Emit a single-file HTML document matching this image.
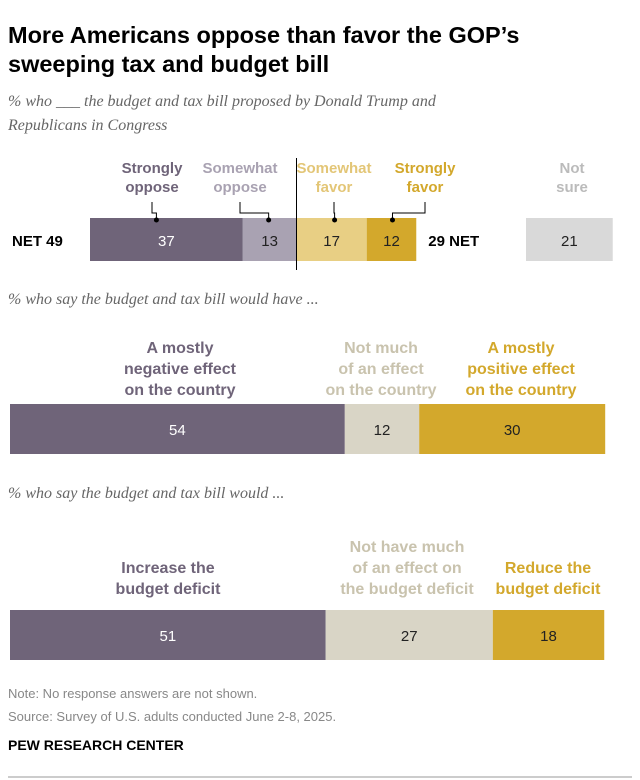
<!DOCTYPE html>
<html><head><meta charset="utf-8"><style>
body{margin:0;background:#fff;width:640px;height:780px;overflow:hidden}
svg{display:block}
.b{font-family:"Liberation Sans",sans-serif;font-weight:bold;font-stretch:condensed}
.s{font-family:"Liberation Serif",serif;font-style:italic;fill:#666;font-size:16px}
</style></head><body>
<svg id="c" width="640" height="780">
<text class="b" x="8" y="43" font-size="23.5" fill="#000">More Americans oppose than favor the GOP’s</text>
<text class="b" x="8" y="72" font-size="23.5" fill="#000">sweeping tax and budget bill</text>
<text class="s" x="8" y="106">% who ___ the budget and tax bill proposed by Donald Trump and</text>
<text class="s" x="8" y="130">Republicans in Congress</text>
<text class="s" x="8" y="304">% who say the budget and tax bill would have ...</text>
<text class="s" x="8" y="498">% who say the budget and tax bill would ...</text>
<g id="g1"></g><g id="g2"></g><g id="g3"></g>
<text x="8" y="698" font-family="Liberation Sans" font-size="13" fill="#888">Note: No response answers are not shown.</text>
<text x="8" y="721" font-family="Liberation Sans" font-size="13" fill="#888">Source: Survey of U.S. adults conducted June 2-8, 2025.</text>
<text class="b" x="8" y="750" font-size="14" fill="#000">PEW RESEARCH CENTER</text>
<line x1="8" y1="777" x2="632" y2="777" stroke="#999" stroke-width="1"/>
</svg>
<script>
const cat1=["Strongly oppose","Somewhat oppose","Somewhat favor","Strongly favor"];
const val1=[37,13,17,12];
const notSure=[21];
const net1=[49,29];
const cat2=["A mostly negative effect on the country","Not much of an effect on the country","A mostly positive effect on the country"];
const val2=[54,12,30];
const cat3=["Increase the budget deficit","Not have much of an effect on the budget deficit","Reduce the budget deficit"];
const val3=[51,27,18];
const NS="http://www.w3.org/2000/svg";
function mk(p,t,a,txt){const e=document.createElementNS(NS,t);for(const k in a)e.setAttribute(k,a[k]);if(txt!=null)e.textContent=txt;p.appendChild(e);return e;}
const g1=document.getElementById('g1');
const s1=v=>v*4.13, x0=90;
const col1=["#6f6479","#a9a2b2","#e8cf84","#d3a82c"];
const lab1=[["Strongly","oppose"],["Somewhat","oppose"],["Somewhat","favor"],["Strongly","favor"]];
const lcol1=["#6f6479","#a9a2b2","#e3c677","#d3a82c"];
const lx1=[152,240,334,425];
let x=x0;
val1.forEach((v,i)=>{
 const w=s1(v);
 const r=mk(g1,'rect',{x:x,y:218,width:w,height:43,fill:col1[i]});
 
 
 const t=mk(g1,'text',{x:x+w/2,y:246,'text-anchor':'middle','font-family':'Liberation Sans','font-size':15,fill:i==0?'#fff':'#222'},v);
 
 
 const cx=x+w/2-(i==0?10:i==3?-1:i==2?-3:1);
 const lx=lx1[i];
 mk(g1,'path',{d:`M${lx} 202 V213 H${cx} V221`,fill:'none',stroke:'#000','stroke-width':1});
 mk(g1,'circle',{cx:cx,cy:220,r:2.5,fill:'#000'});
 lab1[i].forEach((l,j)=>{const tt=mk(g1,'text',{x:lx,y:173+j*19,'text-anchor':'middle','font-size':15,fill:lcol1[i],class:'b'},l);
 
 });
 x+=w;
});
mk(g1,'line',{x1:x0+s1(val1[0]+val1[1]),y1:158,x2:x0+s1(val1[0]+val1[1]),y2:270,stroke:'#000','stroke-width':1});
const n1=mk(g1,'text',{x:12,y:246,class:'b','font-size':15,fill:'#000'},'NET '+net1[0]);


const n2=mk(g1,'text',{x:x+12,y:246,class:'b','font-size':15,fill:'#000'},net1[1]+'  NET');


const ns=mk(g1,'rect',{x:526,y:218,width:s1(notSure[0]),height:43,fill:'#d9d9d9'});


mk(g1,'text',{x:526+s1(notSure[0])/2,y:246,'text-anchor':'middle','font-family':'Liberation Sans','font-size':15,fill:'#222'},notSure[0]);
mk(g1,'text',{x:572,y:173,'text-anchor':'middle','font-size':15,fill:'#bbb',class:'b'},'Not');
mk(g1,'text',{x:572,y:192,'text-anchor':'middle','font-size':15,fill:'#bbb',class:'b'},'sure');
function stack(gid,vals,cats,labels,y,ppu,cols,lcols,tcols,ly){
 const g=document.getElementById(gid);let x=10;
 vals.forEach((v,i)=>{
  const w=v*ppu;
  const r=mk(g,'rect',{x:x,y:y,width:w,height:50,fill:cols[i]});
  
  
  mk(g,'text',{x:x+w/2,y:y+31,'text-anchor':'middle','font-family':'Liberation Sans','font-size':15,fill:tcols[i]},v);
  labels[i].forEach((l,j)=>{const t=mk(g,'text',{x:ly.x[i],y:ly.y[i]+j*21,'text-anchor':'middle','font-size':16,fill:lcols[i],class:'b'},l);
  
  });
  x+=w;
 });
}
stack('g2',val2,cat2,[["A mostly","negative effect","on the country"],["Not much","of an effect","on the country"],["A mostly","positive effect","on the country"]],404,6.2,["#6f6479","#d9d5c6","#d3a82c"],["#6f6479","#c9c3ae","#d3a82c"],["#fff","#222","#222"],{x:[180,381,521],y:[353,353,353]});
stack('g3',val3,cat3,[["Increase the","budget deficit"],["Not have much","of an effect on","the budget deficit"],["Reduce the","budget deficit"]],610,6.19,["#6f6479","#d9d5c6","#d3a82c"],["#6f6479","#c9c3ae","#d3a82c"],["#fff","#222","#222"],{x:[168,407,548],y:[573,552,573]});
</script>
</body></html>
